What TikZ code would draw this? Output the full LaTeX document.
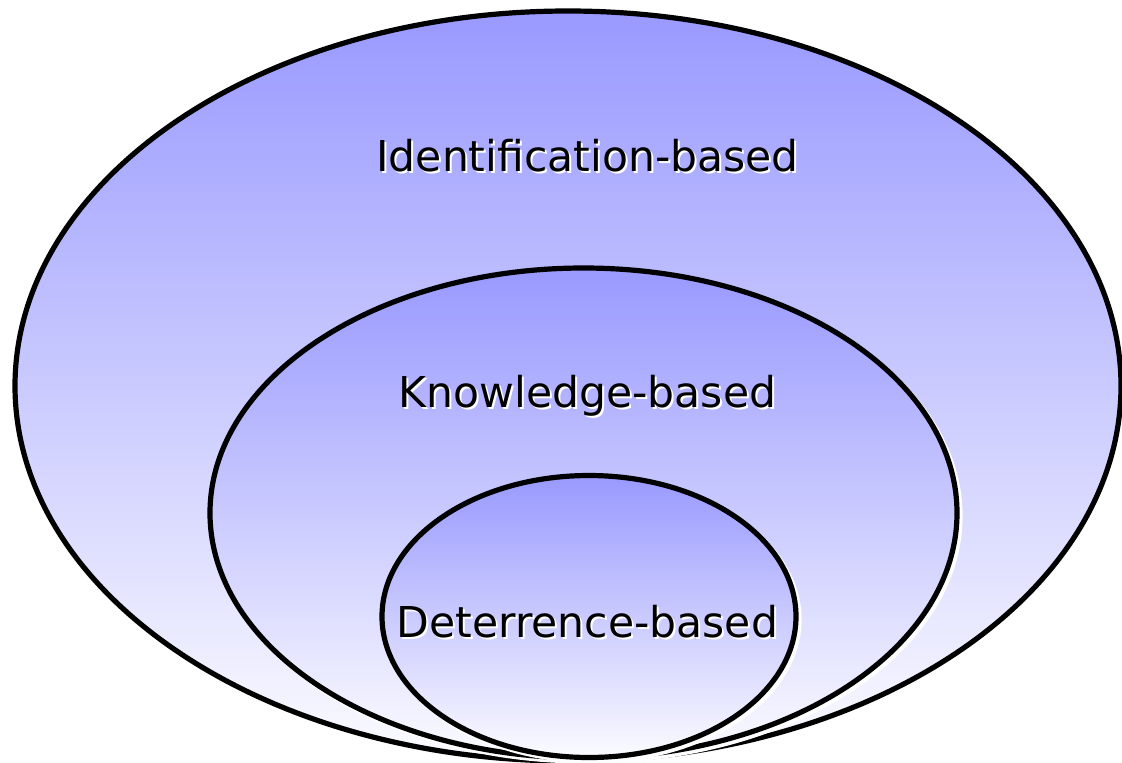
\documentclass[tikz,border=0pt]{standalone}
\usepackage{fontspec}
\setmainfont{DejaVu Sans}
\begin{document}
\begin{tikzpicture}[x=1pt,y=-1pt,
  ring/.style={draw=black, line width=5.2pt, top color=ringtop, bottom color=ringbottom},
  ringshadow/.style={draw=white, line width=5.2pt},
  lbl/.style={font=\fontsize{42.5}{50}\selectfont, text=black, inner sep=0pt},
  lblshadow/.style={font=\fontsize{42.5}{50}\selectfont, text=white, inner sep=0pt}]
\definecolor{ringtop}{HTML}{9999FF}
\definecolor{ringbottom}{HTML}{FBFBFF}
\useasboundingbox (0,0) rectangle (1122,763);
\clip (0,0) rectangle (1122,763);

% outer ring
\fill[white] (571,389) ellipse [x radius=553, y radius=375];
\path[ring] (568,386) ellipse [x radius=553, y radius=375];
% middle ring
\draw[ringshadow] (586.5,516) ellipse [x radius=373.5, y radius=245];
\path[ring] (583.5,513) ellipse [x radius=373.5, y radius=245];
% inner ring
\draw[ringshadow] (592,619.5) ellipse [x radius=207, y radius=141];
\path[ring] (589,616.5) ellipse [x radius=207, y radius=141];

% labels with a light drop shadow
\node[lblshadow] at (589.5,157.5) {Identification-based};
\node[lbl] (ident) at (587.5,155.5) {Identification-based};
\node[lblshadow] at (589.5,397.5) {Knowledge-based};
\node[lbl] (know) at (587.5,395.5) {Knowledge-based};
\node[lblshadow] at (589.5,623.5) {Deterrence-based};
\node[lbl] (deter) at (587.5,621.5) {Deterrence-based};
\end{tikzpicture}
\end{document}
